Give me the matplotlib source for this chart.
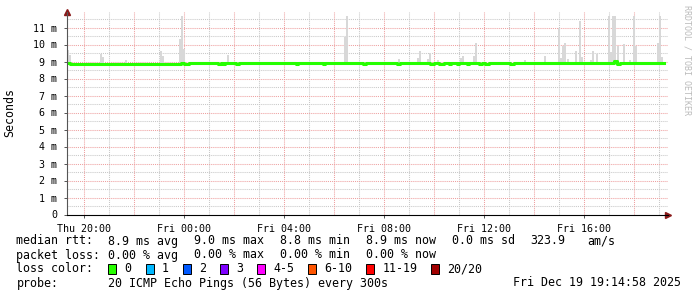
import numpy as np
import matplotlib.pyplot as plt
from matplotlib.patches import Rectangle

# hours relative to Thu 20:00, values in ms
med_t = [-0.68, -0.56, 1.40, 1.60, 2.48, 2.60, 3.88, 4.00, 4.20, 5.36, 5.48, 5.56, 5.64,
         6.08, 6.20, 8.48, 8.56, 9.56, 9.64, 11.16, 11.28, 12.52, 12.64, 13.84, 14.00,
         14.20, 14.40, 14.60, 14.68, 14.92, 15.00, 15.32, 15.40, 15.80, 15.92, 16.04,
         16.20, 17.04, 17.20, 18.48, 18.60, 19.80, 19.92, 21.12, 21.20, 21.32, 21.44, 23.20]
med_v = [8.90, 8.85, 8.88, 8.86, 8.84, 8.86, 8.93, 8.86, 8.91, 8.86, 8.91, 8.86, 8.91,
         8.86, 8.91, 8.86, 8.91, 8.86, 8.91, 8.86, 8.91, 8.86, 8.91, 8.86, 8.91,
         8.86, 8.91, 8.86, 8.91, 8.86, 8.91, 8.86, 8.91, 8.86, 8.91, 8.86,
         8.91, 8.86, 8.91, np.nan, 8.93, 8.89, 8.93, 8.90, 9.02, 8.88, 8.93, 8.93]

spike_t = [-0.68, -0.60, 0.64, 0.72, 1.64, 3.04, 3.12, 3.80, 3.88, 3.96, 5.72, 10.40, 10.48,
           12.56, 13.32, 13.40, 13.72, 13.80, 14.12, 15.04, 15.12, 15.56, 15.64, 17.60,
           18.40, 18.96, 19.04, 19.12, 19.20, 19.32, 19.64, 19.80, 19.88, 20.24, 20.32,
           20.48, 20.96, 21.04, 21.12, 21.20, 21.32, 21.56, 21.80, 21.96, 22.04, 22.92,
           23.00, 23.08]
spike_top = [9.65, 9.40, 9.47, 9.27, 9.08, 9.60, 9.33, 10.35, 11.68, 9.76, 9.37, 10.45, 11.66,
             9.13, 9.20, 9.60, 9.13, 9.50, 9.07, 9.20, 9.33, 9.33, 10.10, 9.07,
             9.33, 10.98, 9.18, 9.92, 10.10, 9.13, 9.60, 11.40, 9.27, 9.07, 9.60,
             9.47, 11.66, 9.55, 11.66, 11.66, 9.90, 10.00, 9.07, 11.66, 9.92, 10.06,
             11.66, 9.27]

x_labels = ['Thu 20:00', 'Fri 00:00', 'Fri 04:00', 'Fri 08:00', 'Fri 12:00', 'Fri 16:00']
loss_labels = ['0', '1', '2', '3', '4-5', '6-10', '11-19', '20/20']
loss_colors = ['#26ff00', '#00b8ff', '#0059ff', '#7e00ff', '#ff00ff', '#ff5500', '#ff0000', '#a10000']

W, H = 697, 297
FS = 8.35   # legend text
AFS = 7.2   # axis labels
plt.rcParams['font.family'] = 'DejaVu Sans Mono'
fig = plt.figure(figsize=(W / 100, H / 100), dpi=100)
L, R, B, T = 67, 668, 214.5, 12
ax = fig.add_axes([L / W, 1 - B / H, (R - L) / W, (B - T) / H])
ax.set_xlim(-0.68, 23.36)
ax.set_ylim(0, (B - T) / 17.0)

# grid: minor every hour / half ms, major every 2 h / 1 ms
for h in range(1, 24, 2):
    ax.axvline(h, color='#c8c8c8', lw=0.75, ls=(0, (1, 1)), zorder=0)
for m in np.arange(0.5, 12, 1.0):
    ax.axhline(m, color='#c8c8c8', lw=0.75, ls=(0, (1, 1)), zorder=0)
for h in range(0, 24, 2):
    ax.axvline(h, color='#eea0a0', lw=0.75, ls=(0, (1, 1)), zorder=0.5)
for m in range(1, 12):
    ax.axhline(m, color='#eea0a0', lw=0.75, ls=(0, (1, 1)), zorder=0.5)

# smoke
base = 8.86
ax.bar(spike_t, np.array(spike_top) - base, bottom=base, width=5 / 60, align='edge',
       color='#d8d8d8', lw=0, zorder=1)

# median
ax.step(med_t, med_v, where='post', color='#26ff00', lw=2.2, zorder=2)

ax.set_xticks(range(0, 24, 4))
ax.set_xticklabels(x_labels, fontsize=AFS)
ax.set_yticks(range(0, 12))
ax.set_yticklabels(['0'] + ['%d m' % i for i in range(1, 12)], fontsize=AFS)
ax.tick_params(length=2, width=0.7, pad=5, color='#555555')
for s in ['top', 'right']:
    ax.spines[s].set_visible(False)
ax.spines['left'].set_color('#555555')
ax.spines['bottom'].set_color('black')
ax.spines['left'].set_linewidth(0.8)
ax.spines['bottom'].set_linewidth(0.8)
ax.plot([1], [0], '>', transform=ax.transAxes, color='#8b1a1a', ms=4, clip_on=False)
ax.plot([0], [1], '^', transform=ax.transAxes, color='#8b1a1a', ms=4, clip_on=False)

def ft(x, y, s, size=FS, **kw):
    fig.text(x / W, 1 - y / H, s, va='center', fontsize=size, **kw)

ft(10, 113, 'Seconds', rotation=90, ha='center')
ft(687, 60, 'RRDTOOL / TOBI OETIKER', size=6, rotation=270, ha='center', color='#bbbbbb')

ft(16.5, 241, 'median rtt:')
for x, s in zip([108, 193.6, 280, 366, 452, 530.5, 587.5],
                ['8.9 ms avg', '9.0 ms max', '8.8 ms min', '8.9 ms now', '0.0 ms sd', '323.9', 'am/s']):
    ft(x, 241, s)
ft(16.5, 255, 'packet loss:')
for x, s in zip([108, 193.6, 280, 366], ['0.00 % avg', '0.00 % max', '0.00 % min', '0.00 % now']):
    ft(x, 255, s)
ft(16.5, 269, 'loss color:')
box_x = [108, 145.5, 182.5, 220, 257, 308, 366, 431]
for x, lab, c in zip(box_x, loss_labels, loss_colors):
    fig.patches.append(Rectangle((x / W, 1 - 274 / H), 8 / W, 10 / H, transform=fig.transFigure,
                                 facecolor=c, edgecolor='black', lw=0.7))
    ft(x + 16.5, 269, lab)
ft(16.5, 283, 'probe:')
ft(108, 283, '20 ICMP Echo Pings (56 Bytes) every 300s')
ft(681, 283, 'Fri Dec 19 19:14:58 2025', ha='right')

fig.savefig('out.png', dpi=100)
